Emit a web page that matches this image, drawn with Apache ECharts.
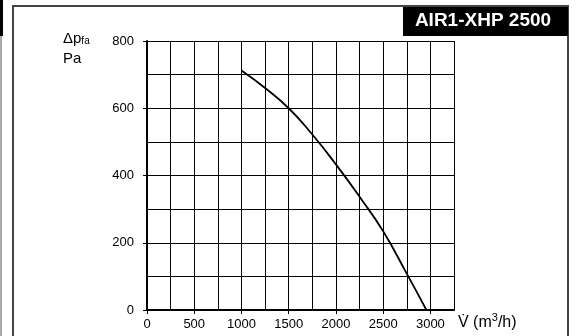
<!DOCTYPE html>
<html>
<head>
<meta charset="utf-8">
<script src="https://cdn.jsdelivr.net/npm/echarts@6/dist/echarts.min.js"></script>
<style>
  html, body { margin: 0; padding: 0; background: #fff; }
  #chart { width: 576px; height: 336px; }
</style>
</head>
<body>
<div id="chart"></div>
<script>
// Fan curve: static pressure vs. volume flow
const flowValues = [1000, 1250, 1500, 1750, 2000, 2250, 2500, 2750, 2958];
const pressureValues = [712, 660, 600, 522, 433, 337, 234, 108, 0];
const xTickLabels = [0, 500, 1000, 1500, 2000, 2500, 3000];
const yTickLabels = [0, 200, 400, 600, 800];
const modelName = 'AIR1-XHP 2500';

const FONT = '"Liberation Sans", Arial, Helvetica, sans-serif';
const X_MIN = 0, X_MAX = 3250, Y_MIN = 0, Y_MAX = 800;

const chart = echarts.init(document.getElementById('chart'), null, { renderer: 'canvas' });

// grid-only axes (dense lines) share the extent of the labelled axes
const gridOnly = {
  axisLine: { show: false },
  axisTick: { show: false },
  axisLabel: { show: false },
  splitLine: { show: true, lineStyle: { color: '#000', width: 1 } }
};

chart.setOption({
  animation: false,
  backgroundColor: '#fff',
  grid: { left: 147, right: 122, top: 41, bottom: 26, containLabel: false },
  xAxis: [
    {
      type: 'value', min: X_MIN, max: X_MAX, position: 'bottom', z: 3,
      axisLine: { show: true, onZero: false, lineStyle: { color: '#000', width: 2 } },
      axisTick: { show: true, length: 4, customValues: xTickLabels, lineStyle: { color: '#000', width: 1 } },
      axisLabel: { customValues: xTickLabels, margin: 8, color: '#000', fontSize: 13, fontFamily: FONT, formatter: v => String(v) },
      splitLine: { show: false }
    },
    Object.assign({ type: 'value', min: X_MIN, max: X_MAX, interval: 250, position: 'bottom' }, gridOnly)
  ],
  yAxis: [
    {
      type: 'value', min: Y_MIN, max: Y_MAX, position: 'left', z: 3,
      axisLine: { show: true, onZero: false, lineStyle: { color: '#000', width: 2 } },
      axisTick: { show: true, length: 4, customValues: yTickLabels, lineStyle: { color: '#000', width: 1 } },
      axisLabel: { customValues: yTickLabels, margin: 13, color: '#000', fontSize: 13, fontFamily: FONT, formatter: v => String(v) },
      splitLine: { show: false }
    },
    Object.assign({ type: 'value', min: Y_MIN, max: Y_MAX, interval: 100, position: 'left' }, gridOnly)
  ],
  series: [{
    type: 'line',
    xAxisIndex: 0,
    yAxisIndex: 0,
    data: flowValues.map((f, i) => [f, pressureValues[i]]),
    smooth: 0.5,
    showSymbol: false,
    z: 5,
    lineStyle: { color: '#000', width: 1.8 }
  }],
  graphic: [
    // outer frame
    { type: 'rect', shape: { x: 13, y: 6, width: 555, height: 340 }, style: { fill: 'none', stroke: '#444', lineWidth: 2 } },
    // edge of the neighbouring panel
    { type: 'rect', shape: { x: 0, y: 0, width: 3, height: 36 }, style: { fill: '#000' } },
    { type: 'rect', shape: { x: 0, y: 36, width: 2, height: 300 }, style: { fill: '#aaa' } },
    // model name box
    { type: 'rect', shape: { x: 403, y: 7, width: 165, height: 29 }, style: { fill: '#000' } },
    {
      type: 'text', x: 483, y: 21,
      style: { text: modelName, fill: '#fff', font: 'bold 19px ' + FONT, textAlign: 'center', textVerticalAlign: 'middle' }
    },
    // y-axis name
    {
      type: 'text', x: 63, y: 26,
      style: {
        text: '{m|Δp}{s|fa}\n{m|Pa}',
        rich: {
          m: { fontSize: 15, fontFamily: FONT, fill: '#000', lineHeight: 20, verticalAlign: 'bottom' },
          s: { fontSize: 10, fontFamily: FONT, fill: '#000', lineHeight: 14, verticalAlign: 'bottom' }
        }
      }
    },
    // x-axis name
    {
      type: 'text', x: 458, y: 312,
      style: {
        text: '{m|V̇ (m}{u|3}{m|/h)}',
        rich: {
          m: { fontSize: 16, fontFamily: FONT, fill: '#000', verticalAlign: 'bottom', lineHeight: 19 },
          u: { fontSize: 11, fontFamily: FONT, fill: '#000', verticalAlign: 'top', lineHeight: 19 }
        }
      }
    }
  ]
});
</script>
</body>
</html>
